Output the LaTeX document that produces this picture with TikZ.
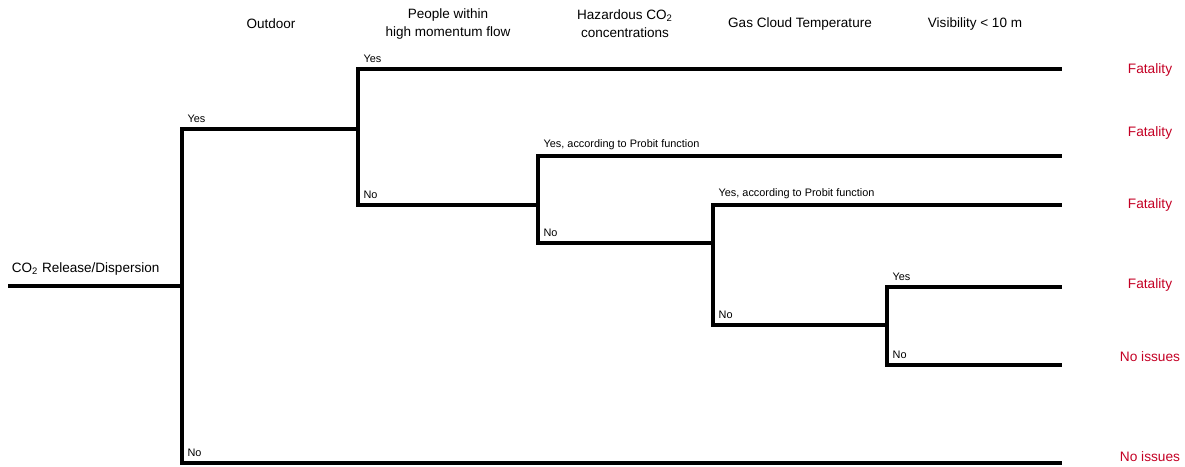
\documentclass[tikz,border=0pt]{standalone}
\usepackage{fontspec}
\setmainfont{Liberation Sans}
\usepackage{xcolor}
\definecolor{outred}{RGB}{196,0,36}
\tikzset{
  branch/.style={line width=2pt},
  head/.style={font=\fontsize{7.7}{10.2}\selectfont,align=center},
  small/.style={font=\fontsize{6.2}{7}\selectfont,anchor=south west,inner sep=0pt,xshift=3pt,yshift=3.5pt},
  result/.style={font=\fontsize{7.8}{9}\selectfont,text=outred}
}

\begin{document}
\begin{tikzpicture}[x=0.02cm,y=-0.02cm]
\useasboundingbox (0,0) rectangle (1185,466);

\coordinate (root) at (8,286);
\coordinate (o) at (182,286);
\coordinate (p) at (358,129);
\coordinate (h) at (538,205);
\coordinate (g) at (713,243);
\coordinate (v) at (887,325);
\coordinate (e1) at (1062,69);
\coordinate (e2) at (1062,156);
\coordinate (e3) at (1062,205);
\coordinate (e4) at (1062,287);
\coordinate (e5) at (1062,365);
\coordinate (e6) at (1062,463);

\draw[branch] (root) -- (o);
\draw[branch] (o) |- (p);
\draw[branch] (o) |- (e6);
\draw[branch] (p) |- (e1);
\draw[branch] (p) |- (h);
\draw[branch] (h) |- (e2);
\draw[branch] (h) |- (g);
\draw[branch] (g) |- (e3);
\draw[branch] (g) |- (v);
\draw[branch] (v) |- (e4);
\draw[branch] (v) |- (e5);

\node[small] (oyes) at (o |- p) {Yes};
\node[small] (ono) at (o |- e6) {No};
\node[small] (pyes) at (p |- e1) {Yes};
\node[small] (pno) at (p |- h) {No};
\node[small] (hyes) at (h |- e2) {Yes, according to Probit function};
\node[small] (hno) at (h |- g) {No};
\node[small] (gyes) at (g |- e3) {Yes, according to Probit function};
\node[small] (gno) at (g |- v) {No};
\node[small] (vyes) at (v |- e4) {Yes};
\node[small] (vno) at (v |- e5) {No};

\node[head,anchor=south west,inner sep=0pt,xshift=2pt,yshift=6pt] (rootlbl) at (root) {CO\textsubscript{2} Release/Dispersion};

\node[head] (outdoor) at (271,24) {Outdoor};
\node[head] (people) at (448,24) {People within\\high momentum flow};
\node[head] (hazard) at (625,24) {Hazardous CO\textsubscript{2}\\concentrations};
\node[head] (temp) at (800,24) {Gas Cloud Temperature};
\node[head] (visib) at (975,24) {Visibility \textless{} 10 m};

\foreach \y/\t [count=\i] in {70/Fatality,133/Fatality,205/Fatality,285/Fatality,357/No issues,457/No issues}{
  \node[result] (out\i) at (1150,\y) {\t};
}
\end{tikzpicture}
\end{document}
